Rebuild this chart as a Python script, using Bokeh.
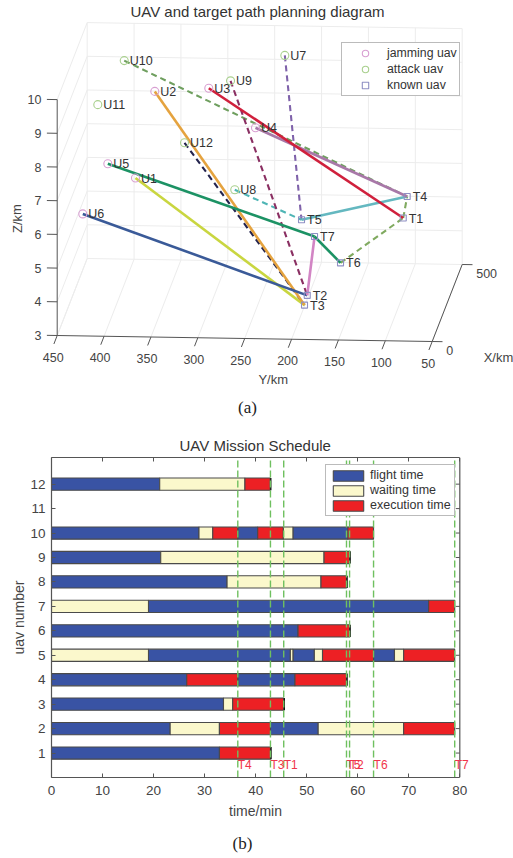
from bokeh.plotting import figure
from bokeh.layouts import column
from bokeh.models import (Range1d, Legend, LegendItem, FixedTicker, LinearAxis,
                          ColumnDataSource, Title)
from bokeh.core.properties import value
from bokeh.embed import file_html
from bokeh.resources import INLINE

SANS = "Liberation Sans"
SERIF = "Liberation Serif"
AXC = "#555555"
TXT = "#444444"

# ---------- panel (a) data: X/km, Y/km, Z/km ----------
uav_names = ["U1","U2","U3","U4","U5","U6","U7","U8","U9","U10","U11","U12"]
uav_x = [100,300,350,250,150,50,450,200,400,450,300,250]
uav_y = [372.9,365.1,310.7,254.5,405.6,425.9,236.0,273.4,290.7,407.3,425.9,330.2]
uav_z = [7.25,8.91,8.80,8.11,7.43,6.39,9.35,6.49,8.80,9.12,8.49,7.63]
uav_kind = ["jam"]*6 + ["atk"]*6

tgt_names = ["T1","T2","T3","T4","T5","T6","T7"]
tgt_x = [200,150,100,300,350,250,200]
tgt_y = [93.7,192.9,192.6,95.9,211.8,163.8,188.3]
tgt_z = [5.73,3.62,3.56,5.91,4.94,4.14,5.14]

paths = [
    ("U10","T4","#6f9f5f","6 4"),
    ("U7","T5","#7f62aa","6 4"),
    ("U8","T5","#4fb5b5","6 4"),
    ("U9","T2","#8a2f62","6 4"),
    ("U12","T3","#24244e","6 4"),
    ("T6","T1","#80aa60","6 4"),
    ("T1","T4","#80aa60","6 4"),
    ("U1","T3","#c9d640","solid"),
    ("U2","T3","#e5a33f","solid"),
    ("U6","T2","#3a5a98","solid"),
    ("T2","T7","#d285c4","solid"),
    ("T5","T4","#64b8c0","solid"),
    ("U5","T7","#1c9264","solid"),
    ("T7","T6","#1c9264","solid"),
    ("U4","T4","#a878a8","solid"),
    ("U3","T1","#d0203c","solid"),
]

y_ticks_a = [450,400,350,300,250,200,150,100,50]
z_ticks_a = [3,4,5,6,7,8,9,10]
x_ticks_a = [0,500]

# ---------- panel (b) data ----------
schedule = {
    12: [("f",21.2),("w",37.9),("e",42.85)],
    10: [("f",28.9),("w",31.6),("e",36.5),("f",40.4),("e",45.4),("w",47.3),("f",58.07),("e",63.1)],
    9:  [("f",21.4),("w",53.4),("e",58.4)],
    8:  [("f",34.4),("w",52.8),("e",57.8)],
    7:  [("w",19.0),("f",73.9),("e",79.0)],
    6:  [("f",48.3),("e",58.4)],
    5:  [("w",19.0),("f",46.8),("w",47.3),("f",51.5),("w",53.1),("e",63.1),("f",67.2),("w",69.0),("e",79.0)],
    4:  [("f",26.5),("e",36.5),("f",47.7),("e",57.8)],
    3:  [("f",33.7),("w",35.5),("e",45.5)],
    2:  [("f",23.25),("w",32.9),("e",42.9),("f",52.25),("w",69.0),("e",79.0)],
    1:  [("f",32.9),("e",42.9)],
}
tail_uavs = [12,9,8,6,4,3,1]
target_times = [36.5,42.9,45.5,57.8,58.4,63.1,79.0]
target_labels = ["T4","T3","T1","T5","T2","T6","T7"]
uav_ticks = list(range(1, 13))
time_ticks = list(range(0, 81, 10))
kind_colors = {"f":"#3953a4","w":"#fbf8cc","e":"#ed2024"}
kind_labels = {"f":"flight time","w":"waiting time","e":"execution time"}


def sx(X, Y, Z):
    return 56.7 + (450 - Y) * 0.9375 + X * 0.06


def sy(X, Y, Z):
    return 335 + (450 - Y) * 0.015 - X * 0.154 - (Z - 3) * 33.7


def seg(a, b):
    return [sx(*a), sx(*b)], [sy(*a), sy(*b)]


pa = figure(width=513, height=430, x_range=Range1d(0, 513), y_range=Range1d(430, 0),
            output_backend="svg", toolbar_location=None, min_border=0, frame_align=False)
pa.axis.visible = False
pa.grid.visible = False
pa.outline_line_color = None

# grid walls
gx, gy = [], []
for Y in y_ticks_a:
    for a, b in [((0,Y,3),(500,Y,3)), ((500,Y,3),(500,Y,10))]:
        xs, ys = seg(a, b); gx.append(xs); gy.append(ys)
for Z in z_ticks_a:
    for a, b in [((0,450,Z),(500,450,Z)), ((500,450,Z),(500,50,Z))]:
        xs, ys = seg(a, b); gx.append(xs); gy.append(ys)
pa.multi_line(gx, gy, line_color="#ececec", line_width=1)

# axes
ax, ay = [], []
for a, b in [((0,450,3),(0,450,10)), ((0,450,3),(0,50,3)), ((0,50,3),(500,50,3))]:
    xs, ys = seg(a, b); ax.append(xs); ay.append(ys)
for Y in y_ticks_a:
    xs, ys = seg((0,Y,3),(-55,Y,3)); ax.append(xs); ay.append(ys)
for Z in z_ticks_a:
    xs, ys = seg((0,450,Z),(0,461,Z)); ax.append(xs); ay.append(ys)
for X in x_ticks_a:
    xs, ys = seg((X,50,3),(X,39,3)); ax.append(xs); ay.append(ys)
pa.multi_line(ax, ay, line_color=AXC, line_width=1)


def tick_text(xs, ys, labels, align):
    pa.text(xs, ys, text=labels, text_font=value(SANS), text_font_size="12.5px",
            text_color=TXT, text_align=align, text_baseline="middle")


tick_text([sx(0,Y,3)-4 for Y in y_ticks_a], [sy(0,Y,3)+21.5 for Y in y_ticks_a],
          [str(v) for v in y_ticks_a], "center")
tick_text([41]*len(z_ticks_a), [sy(0,450,Z) for Z in z_ticks_a],
          [str(v) for v in z_ticks_a], "right")
tick_text([sx(X,50,3)+14 for X in x_ticks_a], [sy(X,50,3)+8.5 for X in x_ticks_a],
          [str(v) for v in x_ticks_a], "left")


def free_text(x, y, t, size="13px", font=SANS, color=TXT, angle=0.0):
    pa.text([x], [y], text=[t], text_font=value(font), text_font_size=size, text_color=color,
            text_align="center", text_baseline="middle", angle=angle)


free_text(257, 11, "UAV and target path planning diagram", "15px", color="#333333")
free_text(272.7, 378.5, "Y/km")
free_text(498, 357, "X/km")
free_text(16.5, 218, "Z/km", angle=1.5708)
free_text(247, 407, "(a)", "17px", SERIF, "#222222")

# paths
pos = {}
for n, X, Y, Z in zip(uav_names, uav_x, uav_y, uav_z):
    pos[n] = (X, Y, Z)
for n, X, Y, Z in zip(tgt_names, tgt_x, tgt_y, tgt_z):
    pos[n] = (X, Y, Z)
for a, b, col, dash in paths:
    xs, ys = seg(pos[a], pos[b])
    pa.line(xs, ys, line_color=col, line_dash=dash,
            line_width=2.6 if dash == "solid" else 2.1)

# markers
jam = [i for i, k in enumerate(uav_kind) if k == "jam"]
atk = [i for i, k in enumerate(uav_kind) if k == "atk"]
rj = pa.scatter([sx(uav_x[i],uav_y[i],uav_z[i]) for i in jam],
                [sy(uav_x[i],uav_y[i],uav_z[i]) for i in jam], marker="circle", size=8,
                fill_color=None, line_color="#d89fd2", line_width=1.1)
ra = pa.scatter([sx(uav_x[i],uav_y[i],uav_z[i]) for i in atk],
                [sy(uav_x[i],uav_y[i],uav_z[i]) for i in atk], marker="circle", size=8,
                fill_color=None, line_color="#a9d08e", line_width=1.1)
rk = pa.scatter([sx(*pos[n]) for n in tgt_names], [sy(*pos[n]) for n in tgt_names],
                marker="square", size=6, fill_color=None, line_color="#8f90c4", line_width=1.1)
names = uav_names + tgt_names
pa.text([sx(*pos[n]) + 5.5 for n in names], [sy(*pos[n]) + 0.5 for n in names], text=names,
        text_font=value(SANS), text_font_size="12.5px", text_color="#333333",
        text_align="left", text_baseline="middle")

leg_a = Legend(items=[LegendItem(label="jamming uav", renderers=[rj]),
                      LegendItem(label="attack uav", renderers=[ra]),
                      LegendItem(label="known uav", renderers=[rk])],
               location=(341, 334), orientation="vertical", padding=2, margin=0, spacing=0,
               glyph_width=42, glyph_height=16, label_standoff=1,
               label_text_font=SANS, label_text_font_size="12.3px", label_text_color="#333333",
               label_height=16, border_line_color="#777777", border_line_width=1,
               background_fill_alpha=1)
pa.add_layout(leg_a)

# ---------- panel (b) ----------
pb = figure(width=513, height=370, x_range=Range1d(0, 90.52), y_range=Range1d(0, 13.09),
            output_backend="svg", toolbar_location=None, min_border_left=51,
            min_border_right=0, min_border_top=27, min_border_bottom=23,
            y_axis_label="uav number", frame_align=False)
pb.grid.visible = False
pb.outline_line_color = None
pb.title = Title(text="UAV Mission Schedule", align="left", text_font=SANS,
                 text_font_size="15px", text_font_style="normal", text_color="#333333",
                 offset=128, standoff=7)
pb.xaxis.ticker = FixedTicker(ticks=time_ticks)
pb.xaxis.bounds = (0, 80)
pb.yaxis.ticker = FixedTicker(ticks=uav_ticks)
for axs in (pb.xaxis, pb.yaxis):
    axs.major_tick_in = 4
    axs.major_tick_out = 0
    axs.minor_tick_line_color = None
    axs.axis_line_color = AXC
    axs.axis_line_width = 1.2
    axs.major_tick_line_color = AXC
    axs.major_label_text_font = SANS
    axs.major_label_text_font_size = "13.5px"
    axs.major_label_text_color = TXT
    axs.major_label_standoff = 6
    axs.axis_label_text_font = SANS
    axs.axis_label_text_font_size = "14px"
    axs.axis_label_text_font_style = "normal"
    axs.axis_label_text_color = TXT
    axs.axis_label_standoff = 6
pb.yaxis.major_label_orientation = "horizontal"
pb.yaxis.axis_label_standoff = 0
pb.xaxis.major_label_standoff = 8

# top spine with mirrored ticks
top = LinearAxis(ticker=FixedTicker(ticks=time_ticks), bounds=(0, 80), major_tick_in=4,
                 major_tick_out=0, minor_tick_line_color=None, axis_line_color=AXC,
                 axis_line_width=1.2, major_tick_line_color=AXC, major_label_text_color=None,
                 major_label_text_font_size="1px", major_label_standoff=0)
pb.add_layout(top, "above")

# right spine with mirrored ticks
pb.line([80, 80], [0, 13.09], line_color=AXC, line_width=1.2)
pb.segment(x0=[80]*len(uav_ticks), y0=uav_ticks, x1=[79.2]*len(uav_ticks), y1=uav_ticks,
           line_color=AXC, line_width=1)

rows = {"f": dict(y=[], left=[], right=[]), "w": dict(y=[], left=[], right=[]), "e": dict(y=[], left=[], right=[])}
for u, segs in schedule.items():
    start = 0.0
    for k, end in segs:
        rows[k]["y"].append(u); rows[k]["left"].append(start); rows[k]["right"].append(end)
        start = end

rend = {}
for k in "fwe":
    rend[k] = pb.hbar(y="y", left="left", right="right", height=0.5,
                      source=ColumnDataSource(rows[k]), fill_color=kind_colors[k],
                      line_color="#4a4a4a", line_width=1.1)
pb.hbar(y=tail_uavs, left=[schedule[u][-1][1] for u in tail_uavs],
        right=[schedule[u][-1][1] + 0.25 for u in tail_uavs], height=0.5,
        fill_color="#111111", line_color=None)

for t in target_times:
    pb.line([t, t], [0, 13.09], line_color="#6fc05f", line_width=1.4, line_dash="7 3")

pb.text(target_times, [0.5]*len(target_times), text=target_labels, text_font=value(SANS),
        text_font_size="12px", text_color="#f0354a", text_baseline="middle", text_align="left")

leg_b = Legend(items=[LegendItem(label=kind_labels[k], renderers=[rend[k]]) for k in "fwe"],
               location=(274, 261), orientation="vertical", padding=3, margin=0, spacing=1,
               glyph_width=38, glyph_height=13, label_standoff=3, label_height=13,
               label_text_font=SANS, label_text_font_size="12.5px", label_text_color="#333333",
               border_line_color="#777777", border_line_width=1.5, background_fill_alpha=1)
pb.add_layout(leg_b)

# strip below the schedule: axis title and caption
pc = figure(width=513, height=55, x_range=Range1d(0, 513), y_range=Range1d(855, 800),
            output_backend="svg", toolbar_location=None, min_border=0, frame_align=False)
pc.axis.visible = False
pc.grid.visible = False
pc.outline_line_color = None
pc.text([255], [810], text=["time/min"], text_font=value(SANS), text_font_size="14px",
        text_color=TXT, text_align="center", text_baseline="middle")
pc.text([242], [843], text=["(b)"], text_font=value(SERIF), text_font_size="17px",
        text_color="#222222", text_align="center", text_baseline="middle")

root = column(pa, pb, pc, spacing=0)
open("out.html", "w").write(file_html(root, INLINE))
